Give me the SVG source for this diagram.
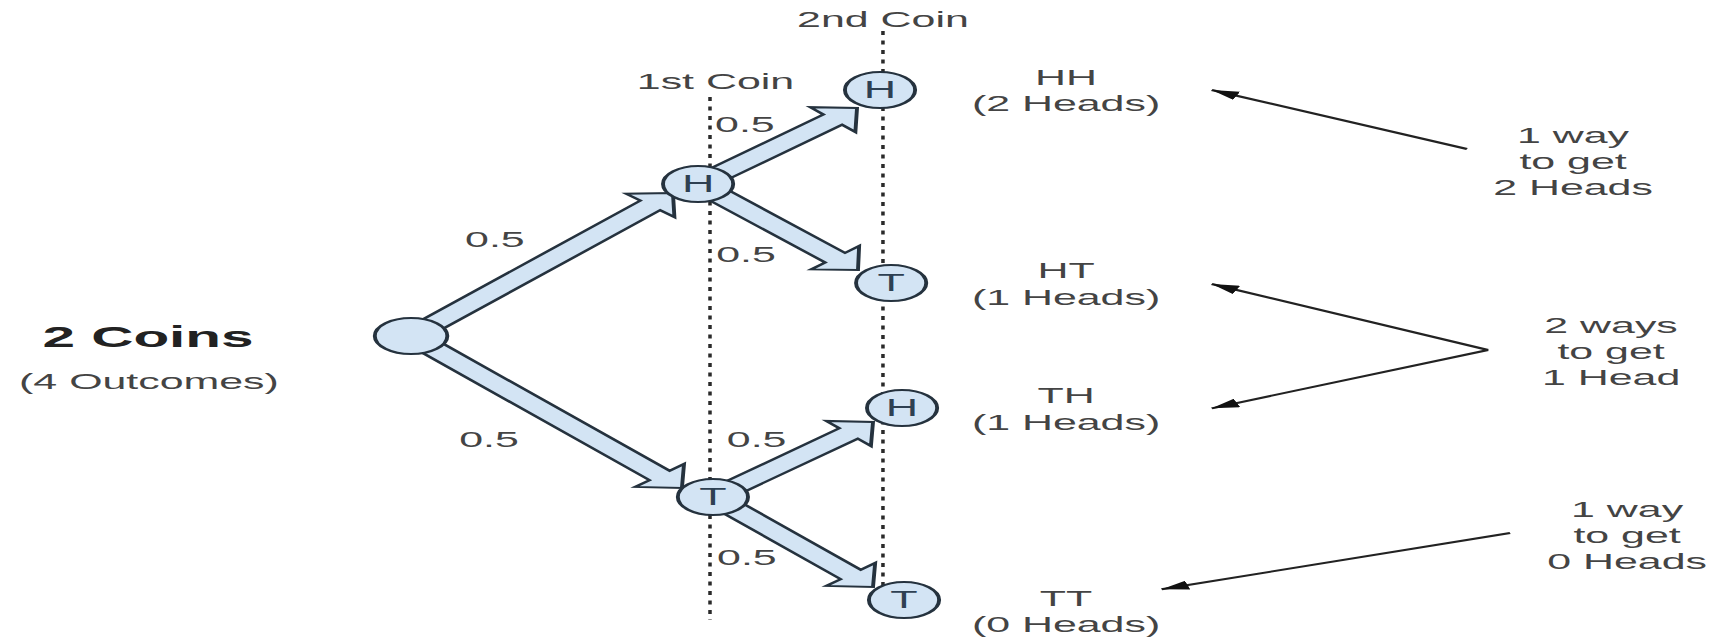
<svg xmlns="http://www.w3.org/2000/svg" width="1716" height="637" viewBox="0 0 1716 637">
<defs>
<style>
.node ellipse{fill:#d3e4f4;stroke:#25323e;stroke-width:2}
.node text{font-family:"Liberation Sans",Arial,sans-serif;font-size:23px;fill:#2e4052;text-anchor:middle}
.block{fill:#d3e4f4;stroke:#25323e;stroke-width:2;stroke-linejoin:miter}
.guide{stroke:#2a2a2a;stroke-width:1.8;stroke-dasharray:4 5.5;fill:none}
.lbl{font-family:"Liberation Sans",Arial,sans-serif;font-size:22px;fill:#444;text-anchor:middle}
.title{font-family:"Liberation Sans",Arial,sans-serif;font-size:30px;font-weight:bold;fill:#222;text-anchor:middle}
.ptr{stroke:#222;stroke-width:2;fill:none;marker-end:url(#ah)}
</style>
<marker id="ah" markerUnits="userSpaceOnUse" markerWidth="15" markerHeight="9" refX="14" refY="4.5" orient="auto"><path d="M0,0 L14,4.5 L0,9 z" fill="#111"/></marker>
</defs>
<rect width="1716" height="637" fill="#fff"/>
<g transform="scale(1.95 1)">
  <g id="guides">
    <line class="guide" x1="364.1" y1="97" x2="364.1" y2="620"/>
    <line class="guide" x1="452.8" y1="31" x2="452.8" y2="620"/>
    <text class="lbl" x="452.8" y="27">2nd Coin</text>
    <text class="lbl" x="366.9" y="89">1st Coin</text>
  </g>
  <g id="connectors">
    <polygon class="block" points="215.9,340.8 338.56,210.18 345.85,217.03 345.1,193 321.07,193.75 328.36,200.6 205.7,331.2"/>
    <polygon class="block" points="205.63,340.72 333.06,480.17 325.68,486.92 349.7,488 350.78,463.98 343.4,470.73 215.97,331.28"/>
    <polygon class="block" points="362.78,189.12 431.84,124.72 438.66,132.04 439.5,108 415.46,107.16 422.28,114.48 353.22,178.88"/>
    <polygon class="block" points="352.93,188.83 423.2,262.52 415.96,269.42 440,270 440.58,245.96 433.34,252.86 363.07,179.17"/>
    <polygon class="block" points="370.32,502.17 439.87,438.64 446.62,446.02 447.7,422 423.68,420.92 430.43,428.3 360.88,491.83"/>
    <polygon class="block" points="360.43,501.72 431.07,579.16 423.68,585.9 447.7,587 448.8,562.98 441.41,569.72 370.77,492.28"/>
    <line class="ptr" x1="752.3" y1="149" x2="621.4" y2="90"/>
    <line class="ptr" x1="763.1" y1="350" x2="621.4" y2="284"/>
    <line class="ptr" x1="763.1" y1="350" x2="621.4" y2="408.3"/>
    <line class="ptr" x1="774.4" y1="533" x2="595.7" y2="589.3"/>
    <text class="lbl" x="253.8" y="247">0.5</text>
    <text class="lbl" x="250.8" y="447">0.5</text>
    <text class="lbl" x="382" y="132">0.5</text>
    <text class="lbl" x="382.6" y="262">0.5</text>
    <text class="lbl" x="388" y="447">0.5</text>
    <text class="lbl" x="383" y="565">0.5</text>
  </g>
  <g id="root" class="node"><ellipse cx="210.8" cy="336" rx="18.6" ry="18"/></g>
  <g id="h1" class="node"><ellipse cx="358" cy="184" rx="18" ry="18"/><text x="358" y="192">H</text></g>
  <g id="t1" class="node"><ellipse cx="365.6" cy="497" rx="18" ry="18"/><text x="365.6" y="505">T</text></g>
  <g id="hh" class="node"><ellipse cx="451.3" cy="90" rx="18" ry="18"/><text x="451.3" y="98">H</text></g>
  <g id="ht" class="node"><ellipse cx="457" cy="283" rx="18" ry="18"/><text x="457" y="291">T</text></g>
  <g id="th" class="node"><ellipse cx="462.6" cy="408" rx="18" ry="18"/><text x="462.6" y="416">H</text></g>
  <g id="tt" class="node"><ellipse cx="463.6" cy="600" rx="18" ry="18"/><text x="463.6" y="608">T</text></g>
  <g id="title">
    <text class="title" x="75.9" y="347">2 Coins</text>
    <text class="lbl" x="76.4" y="389">(4 Outcomes)</text>
  </g>
  <g id="out-hh"><text class="lbl" x="546.7" y="85">HH</text><text class="lbl" x="546.7" y="111">(2 Heads)</text></g>
  <g id="out-ht"><text class="lbl" x="546.7" y="278">HT</text><text class="lbl" x="546.7" y="305">(1 Heads)</text></g>
  <g id="out-th"><text class="lbl" x="546.7" y="403">TH</text><text class="lbl" x="546.7" y="430">(1 Heads)</text></g>
  <g id="out-tt"><text class="lbl" x="546.7" y="606">TT</text><text class="lbl" x="546.7" y="632">(0 Heads)</text></g>
  <g id="note-2h"><text class="lbl" x="806.7" y="143">1 way</text><text class="lbl" x="806.7" y="169">to get</text><text class="lbl" x="806.7" y="195">2 Heads</text></g>
  <g id="note-1h"><text class="lbl" x="826.2" y="333">2 ways</text><text class="lbl" x="826.2" y="359">to get</text><text class="lbl" x="826.2" y="385">1 Head</text></g>
  <g id="note-0h"><text class="lbl" x="834.4" y="517">1 way</text><text class="lbl" x="834.4" y="543">to get</text><text class="lbl" x="834.4" y="569">0 Heads</text></g>
</g>
</svg>
